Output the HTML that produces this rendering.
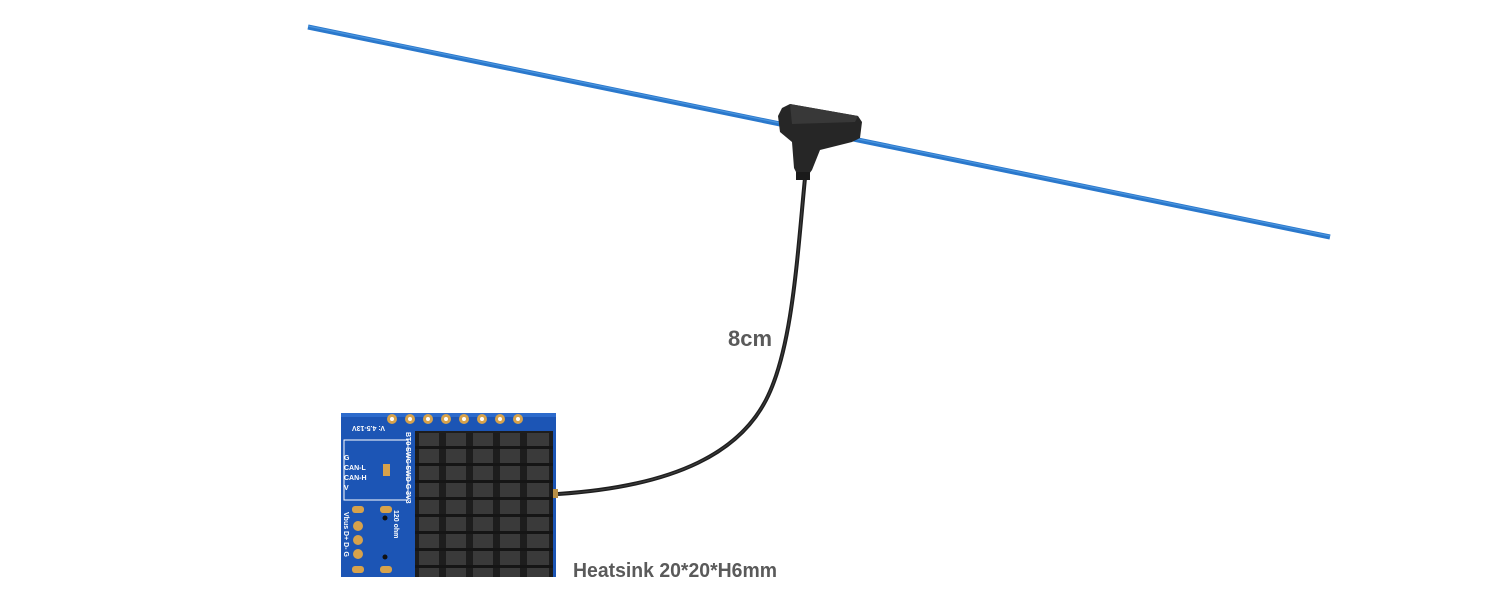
<!DOCTYPE html>
<html><head><meta charset="utf-8"><style>
html,body{margin:0;padding:0;background:#fff;}
svg{display:block}
text{font-family:"Liberation Sans Narrow","Liberation Sans",sans-serif;font-weight:bold;fill:#5a5a5a}
.s{font-family:"Liberation Sans",sans-serif;font-weight:bold;fill:#fff;font-size:7px}
</style></head><body>
<svg width="1500" height="600" viewBox="0 0 1500 600" xmlns="http://www.w3.org/2000/svg">
<line x1="308" y1="27" x2="1330" y2="237" stroke="#2a78cc" stroke-width="5"/>
<line x1="308" y1="26" x2="1330" y2="236" stroke="#5aa2e6" stroke-width="1.2" opacity="0.7"/>
<path d="M805 178 C797 260,792 350,766 400 S680 486,558 494" fill="none" stroke="#1e1e1e" stroke-width="4"/>
<path d="M805 178 C797 260,792 350,766 400 S680 486,558 494" fill="none" stroke="#555" stroke-width="1" opacity="0.6"/>
<path d="M782 108 L790 104 L858 116 L862 122 L860 138 L852 142 L820 150 L812 170 L806 178 L798 176 L794 168 L792 142 L780 132 L778 116 Z" fill="#262626"/>
<path d="M790 104 L858 116 L855 122 L792 124 Z" fill="#383838"/>
<rect x="796" y="172" width="14" height="8" fill="#1a1a1a"/>
<rect x="341" y="413" width="215" height="164" fill="#1c55b5"/>
<rect x="341" y="413" width="215" height="4" fill="#2d6bcc"/>
<rect x="344" y="440" width="64" height="60" fill="none" stroke="#fff" stroke-width="1"/>
<rect x="383" y="464" width="7" height="12" fill="#d7a24b"/>
<g fill="#d7a24b">
<circle cx="392" cy="419" r="5"/><circle cx="410" cy="419" r="5"/><circle cx="428" cy="419" r="5"/><circle cx="446" cy="419" r="5"/><circle cx="464" cy="419" r="5"/><circle cx="482" cy="419" r="5"/><circle cx="500" cy="419" r="5"/><circle cx="518" cy="419" r="5"/>
<circle cx="358" cy="526" r="5"/><circle cx="358" cy="540" r="5"/><circle cx="358" cy="554" r="5"/>
<rect x="352" y="506" width="12" height="7" rx="3"/><rect x="352" y="566" width="12" height="7" rx="3"/>
<rect x="380" y="506" width="12" height="7" rx="3"/><rect x="380" y="566" width="12" height="7" rx="3"/>
</g>
<g fill="#fff"><circle cx="392" cy="419" r="2"/><circle cx="410" cy="419" r="2"/><circle cx="428" cy="419" r="2"/><circle cx="446" cy="419" r="2"/><circle cx="464" cy="419" r="2"/><circle cx="482" cy="419" r="2"/><circle cx="500" cy="419" r="2"/><circle cx="518" cy="419" r="2"/></g>
<circle cx="385" cy="518" r="2.5" fill="#111"/><circle cx="385" cy="557" r="2.5" fill="#111"/>
<text class="s" x="344" y="460">G</text><text class="s" x="344" y="470">CAN-L</text><text class="s" x="344" y="480">CAN-H</text><text class="s" x="344" y="490">V</text>
<text class="s" x="345" y="432" transform="rotate(180 365 429)">V: 4.5-13V</text>
<text class="s" transform="translate(406,432) rotate(90)" x="0" y="0">BT0 SWC SWD G 3V3</text>
<text class="s" transform="translate(394,510) rotate(90)" x="0" y="0">120 ohm</text>
<text class="s" transform="translate(344,512) rotate(90)" x="0" y="0">Vbus D+ D- G</text>
<rect x="415" y="431" width="138" height="146" fill="#1d1d1d"/>
<g fill="#3a3a3a">
<rect x="419" y="433" width="20" height="144"/><rect x="446" y="433" width="20" height="144"/><rect x="473" y="433" width="20" height="144"/><rect x="500" y="433" width="20" height="144"/><rect x="527" y="433" width="22" height="144"/>
</g>
<g fill="#151515">
<rect x="415" y="446" width="138" height="3"/><rect x="415" y="463" width="138" height="3"/><rect x="415" y="480" width="138" height="3"/><rect x="415" y="497" width="138" height="3"/><rect x="415" y="514" width="138" height="3"/><rect x="415" y="531" width="138" height="3"/><rect x="415" y="548" width="138" height="3"/><rect x="415" y="565" width="138" height="3"/>
</g>
<rect x="553" y="489" width="5" height="9" fill="#b89048"/>
<text x="728" y="346" font-size="22" textLength="44" lengthAdjust="spacingAndGlyphs">8cm</text>
<text x="573" y="577" font-size="20" textLength="204" lengthAdjust="spacingAndGlyphs">Heatsink 20*20*H6mm</text>
</svg>
</body></html>
